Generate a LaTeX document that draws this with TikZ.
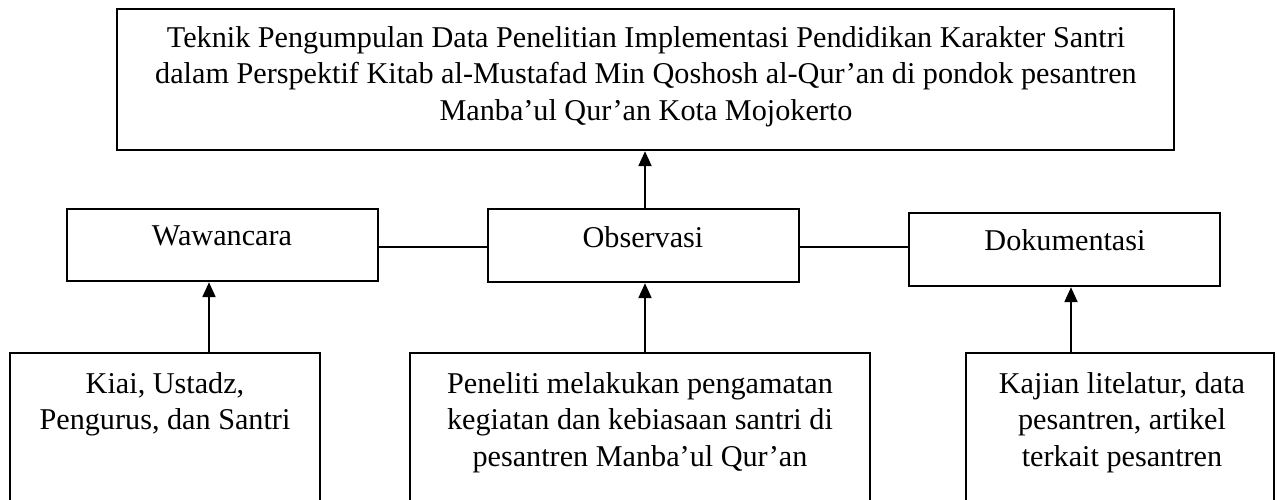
\documentclass[tikz,border=0pt]{standalone}
\usepackage{fontspec}
\setmainfont{Liberation Serif}
\usetikzlibrary{arrows.meta}
\begin{document}
\begin{tikzpicture}[x=1pt,y=-1pt,
  box/.style={draw,line width=2.4pt,inner sep=0pt},
  txt/.style={inner sep=0pt,anchor=north,align=center,font=\fontsize{30.2}{36.5}\selectfont},
  conn/.style={line width=2.2pt},
  arr/.style={line width=2.2pt,-{Triangle[length=15pt,width=13pt]}}]
\clip (0,0) rectangle (1277,500);
% boxes
\node[box,minimum width=1057pt,minimum height=141pt] (top) at (645.5,79.5) {};
\node[box,minimum width=311pt,minimum height=72pt] (waw) at (222.5,245) {};
\node[box,minimum width=311pt,minimum height=73pt] (obs) at (643.5,245.5) {};
\node[box,minimum width=311pt,minimum height=73pt] (dok) at (1064.5,249.5) {};
\node[box,minimum width=310pt,minimum height=162pt] (b1) at (165,434) {};
\node[box,minimum width=460pt,minimum height=162pt] (b2) at (640,434) {};
\node[box,minimum width=308pt,minimum height=162pt] (b3) at (1120,434) {};
% texts
\node[txt] (ttop) at (646,26) {Teknik Pengumpulan Data Penelitian Implementasi Pendidikan Karakter Santri\\dalam Perspektif Kitab al-Mustafad Min Qoshosh al-Qur’an di pondok pesantren\\Manba’ul Qur’an Kota Mojokerto};
\node[txt] (twaw) at (222,226) {Wawancara};
\node[txt] (tobs) at (643,226) {Observasi};
\node[txt] (tdok) at (1065,229) {Dokumentasi};
\node[txt] (tb1) at (165,372) {Kiai, Ustadz,\\Pengurus, dan Santri};
\node[txt] (tb2) at (640,372) {Peneliti melakukan pengamatan\\kegiatan dan kebiasaan santri di\\pesantren Manba’ul Qur’an};
\node[txt] (tb3) at (1122,372) {Kajian litelatur, data\\pesantren, artikel\\terkait pesantren};
% connectors
\coordinate (a1) at (209,353);
\coordinate (a3) at (1071,353);
\coordinate (a2) at (645,353);
\draw[conn] (waw.east |- 0,247) -- (obs.west |- 0,247);
\draw[conn] (obs.east |- 0,247) -- (dok.west |- 0,247);
\draw[arr] (a1) -- (a1 |- waw.south);
\draw[arr] (a2) -- (a2 |- obs.south);
\draw[arr] (a3) -- (a3 |- dok.south);
\draw[arr] (a2 |- obs.north) -- (a2 |- top.south);
\end{tikzpicture}
\end{document}
